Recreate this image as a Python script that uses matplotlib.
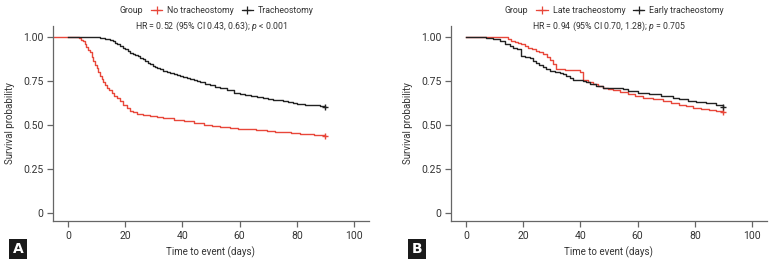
import matplotlib
matplotlib.use("Agg")
import matplotlib.pyplot as plt
from matplotlib.lines import Line2D
from matplotlib import font_manager

avail = {f.name for f in font_manager.fontManager.ttflist}
FONT = next((f for f in ["Liberation Sans Narrow", "Roboto", "DejaVu Sans"] if f in avail), "DejaVu Sans")
plt.rcParams['font.family'] = [FONT, 'DejaVu Sans']
plt.rcParams['mathtext.fontset'] = 'custom'
plt.rcParams['mathtext.it'] = FONT + ':italic'
plt.rcParams['mathtext.rm'] = FONT

RED = "#e8473a"
BLK = "#222222"
GRAY = "#666666"

# ---------------- Panel A data ----------------
a_no_t = [-5, 4, 4.7, 5.4, 6.0, 6.5, 7.1, 7.7, 8.3, 8.9, 9.5, 10, 10.6, 11.2, 11.8, 12.4,
          13.0, 13.5, 14.4, 15.3, 16.2, 17, 18.2, 19.4, 20.5, 21.7, 22.8, 24, 26.3, 28.7,
          31, 33.4, 36.9, 40.4, 43.9, 47.4, 50.3, 53.2, 56.7, 59.3, 62, 65.7, 69.5, 72.3,
          75, 78, 81.2, 83.5, 86, 88, 90]
a_no_s = [1.00, 0.99, 0.983, 0.975, 0.957, 0.94, 0.925, 0.91, 0.885, 0.86, 0.84, 0.82,
          0.80, 0.777, 0.758, 0.74, 0.725, 0.71, 0.695, 0.68, 0.666, 0.653, 0.634, 0.615,
          0.596, 0.578, 0.57, 0.5625, 0.555, 0.549, 0.542, 0.536, 0.528, 0.52, 0.51, 0.50,
          0.495, 0.49, 0.483, 0.478, 0.474, 0.469, 0.464, 0.46, 0.457, 0.453, 0.449, 0.446,
          0.443, 0.44, 0.4375]
a_tr_t = [0, 5.3, 8.5, 11.2, 13, 14.7, 15.6, 16.5, 17.3, 18.2, 19.1, 20, 20.9, 21.7, 22.6,
          23.5, 24.4, 25.2, 26.1, 27, 27.9, 28.7, 29.6, 30.5, 31.3, 32.2, 33.3, 34.5, 35.7,
          36.9, 38, 39, 40.3, 41.5, 42.8, 44, 45.1, 46.2, 48, 49.7, 51.5, 53.2, 55.5, 57.9,
          60, 62, 64, 66, 68, 70, 71.5, 73, 75, 77, 78.5, 80, 81.5, 83, 84.5, 85.9, 88, 90]
a_tr_s = [1.00, 1.00, 0.997, 0.994, 0.988, 0.98, 0.973, 0.965, 0.956, 0.947, 0.938, 0.928,
          0.918, 0.909, 0.902, 0.895, 0.888, 0.88, 0.871, 0.862, 0.852, 0.843, 0.836, 0.828,
          0.821, 0.814, 0.807, 0.80, 0.795, 0.79, 0.784, 0.778, 0.772, 0.767, 0.76, 0.754,
          0.748, 0.742, 0.733, 0.725, 0.717, 0.71, 0.70, 0.68, 0.674, 0.668, 0.662, 0.657,
          0.652, 0.647, 0.642, 0.638, 0.633, 0.628, 0.623, 0.619, 0.616, 0.614, 0.612, 0.61,
          0.605, 0.60]

# ---------------- Panel B data ----------------
b_late_t = [0, 12.4, 14.7, 15.9, 17.1, 18.2, 19.4, 20.5, 21.7, 23.2, 24.6, 25.7, 26.9, 28.2,
            29.3, 30.4, 31.6, 34.5, 37.4, 39.7, 40.9, 42.6, 44.4, 46.1, 47.8, 49.5, 51.3, 54,
            56.6, 59.2, 61.8, 65.3, 68.8, 71.7, 74.6, 76.9, 79.2, 82.1, 85, 87.5, 90]
b_late_s = [1.00, 1.00, 0.985, 0.977, 0.97, 0.963, 0.956, 0.946, 0.9375, 0.929, 0.92, 0.91,
            0.90, 0.885, 0.87, 0.843, 0.814, 0.812, 0.81, 0.80, 0.752, 0.742, 0.733, 0.722,
            0.71, 0.705, 0.70, 0.686, 0.672, 0.662, 0.653, 0.644, 0.635, 0.623, 0.612, 0.604,
            0.597, 0.591, 0.585, 0.577, 0.57]
b_early_t = [0, 4.9, 7.2, 9.5, 11.8, 13.6, 15.3, 16.5, 17.7, 19.4, 20.8, 22.3, 23.4, 24.6,
             25.7, 26.9, 28.1, 29.3, 31, 32.8, 33.9, 35.1, 36.2, 37.4, 40.9, 42, 43.2, 45.5,
             47.8, 51, 54.8, 56.6, 60.3, 64.1, 68.1, 72.2, 74.6, 77.5, 80.4, 83.8, 87.3, 90]
b_early_s = [1.00, 1.00, 0.994, 0.985, 0.975, 0.96, 0.947, 0.938, 0.928, 0.89, 0.884,
             0.877, 0.864, 0.852, 0.84, 0.828, 0.816, 0.805, 0.80, 0.795, 0.786, 0.777, 0.765,
             0.752, 0.748, 0.74, 0.733, 0.722, 0.71, 0.708, 0.705, 0.69, 0.681, 0.672, 0.662,
             0.653, 0.644, 0.637, 0.63, 0.621, 0.612, 0.60]

yticks = [0, 0.25, 0.50, 0.75, 1.00]
ytick_labels = ["0", "0.25", "0.50", "0.75", "1.00"]
xticks = [0, 20, 40, 60, 80, 100]

panels = [
    dict(rect=[53/774, 1-221/265, 316/774, 195/265],
         curves=[(a_no_t, a_no_s, RED, "No tracheostomy"), (a_tr_t, a_tr_s, BLK, "Tracheostomy")],
         hr="HR = 0.52 (95% CI 0.43, 0.63); $p$ < 0.001", letter="A", lx=18/774,
         gx=0.285, legx=0.31),
    dict(rect=[451/774, 1-221/265, 316/774, 195/265],
         curves=[(b_late_t, b_late_s, RED, "Late tracheostomy"), (b_early_t, b_early_s, BLK, "Early tracheostomy")],
         hr="HR = 0.94 (95% CI 0.70, 1.28); $p$ = 0.705", letter="B", lx=417/774,
         gx=0.245, legx=0.27),
]

fig = plt.figure(figsize=(7.74, 2.65), dpi=100)

for p in panels:
    ax = fig.add_axes(p["rect"])
    handles = []
    for t, s, c, lab in p["curves"]:
        ax.step(t, s, where="post", color=c, lw=1.0)
        ax.plot([t[-1]], [s[-1]], marker="+", color=c, ms=5, mew=1.0, ls="none")
        handles.append(Line2D([0], [0], color=c, lw=0.9, marker="+", ms=6, mew=0.9))
    ax.set_xlim(-5.2, 105.2)
    ax.set_ylim(-0.045, 1.06)
    ax.set_xticks(xticks)
    ax.set_yticks(yticks)
    ax.set_yticklabels(ytick_labels)
    for side in ["top", "right"]:
        ax.spines[side].set_visible(False)
    for side in ["left", "bottom"]:
        ax.spines[side].set_color(GRAY)
        ax.spines[side].set_linewidth(0.9)
    ax.tick_params(colors=GRAY, labelcolor="#333333", labelsize=7.5, length=4, width=0.9, pad=3)
    ax.set_xlabel("Time to event (days)", fontsize=7, color="#333333", labelpad=4)
    ax.set_ylabel("Survival probability", fontsize=7, color="#333333", labelpad=6)

    labels = [c[3] for c in p["curves"]]
    leg = ax.legend(handles, labels, loc="center left", bbox_to_anchor=(p["legx"], 1.078),
                    ncol=2, frameon=False, fontsize=6.3, handlelength=1.3, handletextpad=0.55,
                    columnspacing=0.9, borderaxespad=0, borderpad=0)
    for txt in leg.get_texts():
        txt.set_color("#333333")
    ax.text(p["gx"], 1.078, "Group", transform=ax.transAxes, ha="right", va="center",
            fontsize=6.3, color="#333333")
    ax.text(0.5, 0.998, p["hr"], transform=ax.transAxes, ha="center", va="center",
            fontsize=6.3, color="#333333")

    fig.text(p["lx"], 1-249/265, p["letter"], ha="center", va="center", color="white",
             fontsize=10, fontweight="bold", family="DejaVu Sans",
             bbox=dict(boxstyle="square,pad=0.25", fc="#1a1a1a", ec="none"))

fig.savefig("out.png", dpi=100)
